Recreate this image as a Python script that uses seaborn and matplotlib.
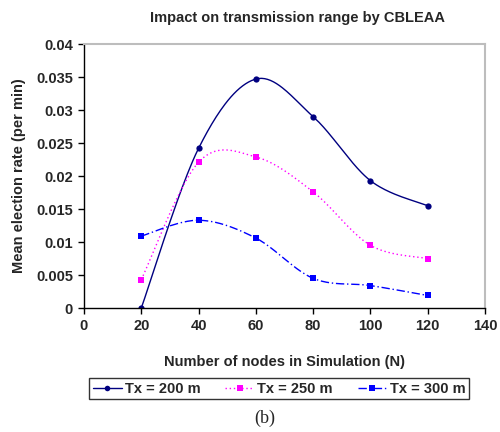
import numpy as np
import pandas as pd
import matplotlib
matplotlib.use("Agg")
import matplotlib.pyplot as plt
import seaborn as sns
from matplotlib.lines import Line2D

nodes = [20, 40, 60, 80, 100, 120]
tx200 = [0.0, 0.0242, 0.0347, 0.0290, 0.0193, 0.0155]
tx250 = [0.0043, 0.0221, 0.0229, 0.0176, 0.0095, 0.0075]
tx300 = [0.0109, 0.0133, 0.0106, 0.0045, 0.0034, 0.0019]
series_labels = ["Tx = 200 m", "Tx = 250 m", "Tx = 300 m"]
x_ticks = [0, 20, 40, 60, 80, 100, 120, 140]
y_ticks = [0, 0.005, 0.01, 0.015, 0.02, 0.025, 0.03, 0.035, 0.04]
y_tick_labels = ["0", "0.005", "0.01", "0.015", "0.02", "0.025", "0.03", "0.035", "0.04"]

sns.set_theme(style="white")
plt.rcParams['font.family'] = ['Liberation Sans', 'DejaVu Sans']
plt.rcParams['font.weight'] = 'bold'


def smooth(xs, ys, n=40):
    # Excel-style smoothed line (Bezier with Catmull-Rom control points)
    P = np.column_stack([xs, ys]).astype(float)
    out = []
    m = len(P)
    for i in range(m - 1):
        p0 = P[i - 1] if i > 0 else P[i]
        p1 = P[i]
        p2 = P[i + 1]
        p3 = P[i + 2] if i + 2 < m else P[i + 1]
        c1 = p1 + (p2 - p0) / 6.0
        c2 = p2 - (p3 - p1) / 6.0
        t = np.linspace(0, 1, n)[:, None]
        seg = ((1 - t) ** 3) * p1 + 3 * ((1 - t) ** 2) * t * c1 + 3 * (1 - t) * t ** 2 * c2 + t ** 3 * p2
        out.append(seg if i == 0 else seg[1:])
    arr = np.vstack(out)
    return arr[:, 0], arr[:, 1]


fig = plt.figure(figsize=(5.0, 4.32), dpi=100)
ax = fig.add_axes([0.168, 0.287, 0.802, 0.611])

styles = [
    dict(color="#000080", ls="-", marker="o", ms=4.5, lw=1.0),
    dict(color="#FF00FF", ls=(0, (1, 2)), marker="s", ms=4.5, lw=1.0),
    dict(color="#0000FF", ls=(0, (6, 2, 1, 2)), marker="s", ms=4.5, lw=1.0),
]
handles = []
for vals, lab, st in zip([tx200, tx250, tx300], series_labels, styles):
    sx, sy = smooth(nodes, vals)
    sns.lineplot(x=sx, y=sy, ax=ax, color=st["color"], linestyle=st["ls"], lw=st["lw"], sort=False, estimator=None)
    sns.lineplot(x=nodes, y=vals, ax=ax, color=st["color"], linestyle="", marker=st["marker"],
                 markersize=st["ms"], markeredgewidth=0, sort=False, estimator=None)
    handles.append(Line2D([0], [0], color=st["color"], linestyle=st["ls"], lw=st["lw"],
                          marker=st["marker"], markersize=st["ms"] - 0.5, markeredgewidth=0))

ax.set_xlim(0, 140)
ax.set_ylim(0, 0.04)
ax.set_xticks(x_ticks)
ax.set_xticklabels([str(v) for v in x_ticks], fontsize=10.5, fontweight='bold')
ax.set_yticks(y_ticks)
ax.set_yticklabels(y_tick_labels, fontsize=10.5, fontweight='bold')
ax.tick_params(axis='both', direction='out', length=4, width=1, color='black', pad=4, bottom=True, left=True)

for side in ['left', 'bottom']:
    ax.spines[side].set_color('black')
    ax.spines[side].set_linewidth(1.0)
for side in ['top', 'right']:
    ax.spines[side].set_color('#bdbdbd')
    ax.spines[side].set_linewidth(1.5)

ax.set_xlabel("Number of nodes in Simulation (N)", fontsize=10.5, fontweight='bold', labelpad=16)
ax.set_ylabel("Mean election rate (per min)", fontsize=10.5, fontweight='bold', labelpad=7)

fig.text(0.594, 0.958, "Impact on transmission range by CBLEAA", ha='center', va='center',
         fontsize=10.5, fontweight='bold')

leg = fig.legend(handles=handles, labels=series_labels, ncol=3, loc='center',
                 bbox_to_anchor=(0.558, 0.1), frameon=True, fancybox=False,
                 prop=dict(size=10.5, weight='bold'), handlelength=2.0, handletextpad=0.2,
                 columnspacing=1.7, borderpad=0.25, borderaxespad=0)
leg.get_frame().set_edgecolor('black')
leg.get_frame().set_linewidth(1.0)

fig.text(0.53, 0.032, "(b)", ha='center', va='center', fontsize=13,
         family=['Liberation Serif', 'DejaVu Serif'], fontweight='normal')

fig.savefig("out.png", dpi=100)
